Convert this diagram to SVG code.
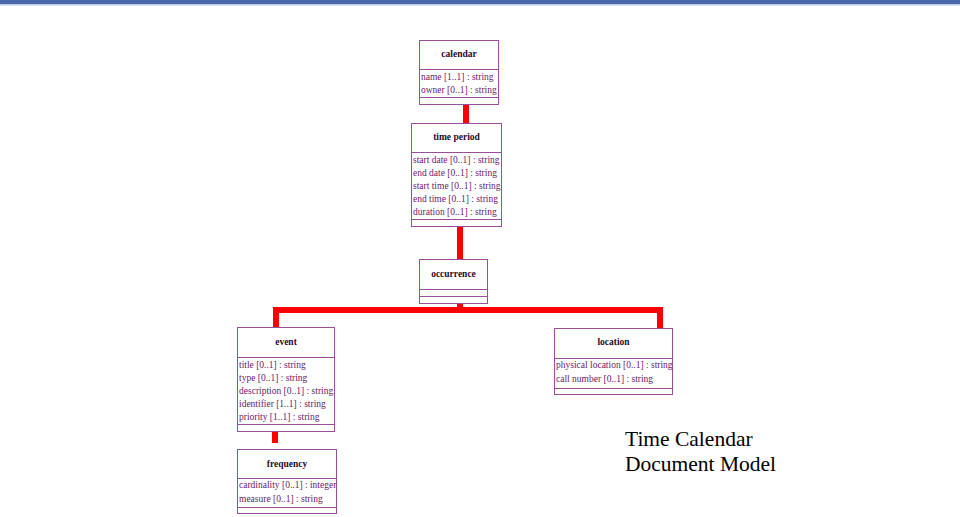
<svg xmlns="http://www.w3.org/2000/svg" width="960" height="517" viewBox="0 0 960 517">
<style>
.box{fill:#fff;stroke:#9a4f9a;stroke-width:1}
.div{stroke:#9a4f9a;stroke-width:1}
.t{font-family:"Liberation Serif",serif;font-size:9.5px;font-weight:bold;fill:#2a0a2a;text-anchor:middle}
.a{font-family:"Liberation Serif",serif;font-size:9.5px;fill:#6a1a6a}
.c{stroke:#ff0000;stroke-width:6;fill:none}
.big{font-family:"Liberation Serif",serif;font-size:21.5px;fill:#000}
</style>
<rect x="0" y="0" width="960" height="517" fill="#fff"/>
<rect x="0" y="0" width="960" height="4" fill="#4a69ad"/>
<rect x="0" y="4" width="960" height="1.5" fill="#b8cce8"/>
<g id="connectors">
<line class="c" x1="466" y1="104" x2="466" y2="123"/>
<line class="c" x1="460" y1="226" x2="460" y2="259"/>
<polyline class="c" points="276,327 276,310 660,310 660,328"/>
<line class="c" x1="460" y1="303" x2="460" y2="310"/>
<line class="c" x1="275" y1="431" x2="275" y2="443"/>
</g>
<g id="calendar">
<rect class="box" x="419.5" y="40.5" width="79" height="64"/>
<line class="div" x1="419.5" y1="69.5" x2="498.5" y2="69.5"/>
<line class="div" x1="419.5" y1="97.5" x2="498.5" y2="97.5"/>
<text class="t" x="459" y="57">calendar</text>
<text class="a" x="421" y="80">name [1..1] : string</text>
<text class="a" x="421" y="93">owner [0..1] : string</text>
</g>
<g id="time-period">
<rect class="box" x="411.5" y="123.5" width="90" height="103"/>
<line class="div" x1="411.5" y1="152.5" x2="501.5" y2="152.5"/>
<line class="div" x1="411.5" y1="219.5" x2="501.5" y2="219.5"/>
<text class="t" x="456.5" y="140">time period</text>
<text class="a" x="413" y="163">start date [0..1] : string</text>
<text class="a" x="413" y="176">end date [0..1] : string</text>
<text class="a" x="413" y="189">start time [0..1] : string</text>
<text class="a" x="413" y="202">end time [0..1] : string</text>
<text class="a" x="413" y="215">duration [0..1] : string</text>
</g>
<g id="occurrence">
<rect class="box" x="419.5" y="259.5" width="68" height="44"/>
<line class="div" x1="419.5" y1="289.5" x2="487.5" y2="289.5"/>
<line class="div" x1="419.5" y1="296.5" x2="487.5" y2="296.5"/>
<text class="t" x="453.5" y="277">occurrence</text>
</g>
<g id="event">
<rect class="box" x="237.5" y="327.5" width="97" height="104"/>
<line class="div" x1="237.5" y1="357.5" x2="334.5" y2="357.5"/>
<line class="div" x1="237.5" y1="424.5" x2="334.5" y2="424.5"/>
<text class="t" x="286" y="345">event</text>
<text class="a" x="239" y="368">title [0..1]  : string</text>
<text class="a" x="239" y="381">type [0..1] : string</text>
<text class="a" x="239" y="394">description [0..1] : string</text>
<text class="a" x="239" y="407">identifier [1..1] : string</text>
<text class="a" x="239" y="420">priority [1..1] : string</text>
</g>
<g id="frequency">
<rect class="box" x="237.5" y="449.5" width="99" height="64"/>
<line class="div" x1="237.5" y1="478.5" x2="336.5" y2="478.5"/>
<line class="div" x1="237.5" y1="507.5" x2="336.5" y2="507.5"/>
<text class="t" x="287" y="467">frequency</text>
<text class="a" x="239" y="488">cardinality [0..1] : integer</text>
<text class="a" x="239" y="502">measure [0..1] : string</text>
</g>
<g id="location">
<rect class="box" x="554.5" y="328.5" width="118" height="66"/>
<line class="div" x1="554.5" y1="358.5" x2="672.5" y2="358.5"/>
<line class="div" x1="554.5" y1="388.5" x2="672.5" y2="388.5"/>
<text class="t" x="613.5" y="345">location</text>
<text class="a" x="556" y="368">physical location [0..1] : string</text>
<text class="a" x="556" y="382">call number [0..1] : string</text>
</g>
<g id="caption">
<text class="big" x="625" y="446">Time Calendar</text>
<text class="big" x="625" y="471">Document Model</text>
</g>
</svg>
